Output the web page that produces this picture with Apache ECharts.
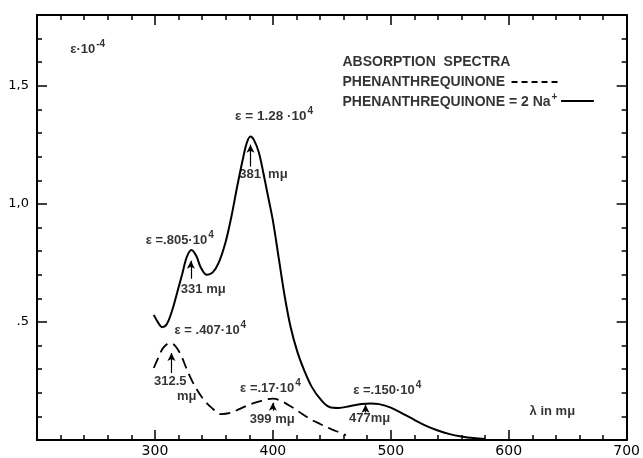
<!DOCTYPE html>
<html>
<head>
<meta charset="utf-8">
<script src="https://cdn.jsdelivr.net/npm/echarts@6/dist/echarts.min.js"></script>
<style>
  html, body { margin: 0; padding: 0; background: #fff; }
  #chart { width: 643px; height: 458px; }
</style>
</head>
<body>
<div id="chart"></div>
<script>
// phenanthrequinone + 2Na+ (solid)
const solidWl = [299, 303, 306, 310, 315, 319, 323, 327, 331, 335, 339, 344, 349, 354, 360, 365, 370, 375, 378, 381, 384, 388, 392, 396, 400, 405, 410, 415, 421, 427, 433, 440, 448, 456, 465, 475, 483, 490, 500, 510, 520, 530, 540, 550, 560, 570, 580];
const solidEps = [0.53, 0.495, 0.478, 0.49, 0.555, 0.627, 0.70, 0.775, 0.805, 0.78, 0.73, 0.70, 0.71, 0.75, 0.84, 0.95, 1.08, 1.20, 1.26, 1.285, 1.27, 1.22, 1.13, 1.03, 0.93, 0.77, 0.61, 0.48, 0.37, 0.29, 0.225, 0.175, 0.14, 0.136, 0.143, 0.152, 0.155, 0.152, 0.137, 0.112, 0.085, 0.06, 0.04, 0.025, 0.015, 0.008, 0.004];

// phenanthrequinone (dashed)
const dashWl = [299, 303, 307, 312.5, 317, 322, 327, 332, 340, 348, 356, 364, 372, 380, 388, 395, 400, 406, 416, 425, 433, 440, 450, 456, 462];
const dashEps = [0.305, 0.35, 0.39, 0.41, 0.40, 0.36, 0.30, 0.245, 0.18, 0.137, 0.11, 0.115, 0.132, 0.15, 0.163, 0.172, 0.175, 0.168, 0.14, 0.11, 0.085, 0.068, 0.045, 0.033, 0.02];

// axis tick labels
const xLabels = {300: '300', 400: '400', 500: '500', 600: '600', 700: '700'};
const yLabels = {5: '.5', 10: '1,0', 15: '1,5'};

// annotation texts: [wavelength, eps, text, superscript, align, size]
const notes = [
  [243, 1.655, 'ε·10', '-4', 'center', 13],
  [401, 1.373, 'ε = 1.28 ·10', '4', 'center', 13.5],
  [392, 1.125, '381  mμ', '', 'center', 13],
  [321, 0.847, 'ε =.805·10', '4', 'center', 13],
  [341, 0.637, '331 mμ', '', 'center', 13],
  [347, 0.465, 'ε = .407·10', '4', 'center', 13],
  [313, 0.25, '312.5', '', 'center', 13],
  [327, 0.185, 'mμ', '', 'center', 13],
  [398, 0.22, 'ε =.17·10', '4', 'center', 13],
  [399.5, 0.086, '399 mμ', '', 'center', 13],
  [497, 0.212, 'ε =.150·10', '4', 'center', 13],
  [482, 0.09, '477mμ', '', 'center', 13],
  [637, 0.12, 'λ in mμ', '', 'center', 13],
  [459, 1.60, 'ABSORPTION  SPECTRA', '', 'left', 14],
  [459, 1.516, 'PHENANTHREQUINONE', '', 'left', 14],
  [459, 1.432, 'PHENANTHREQUINONE = 2 Na', '+', 'left', 14]
];

// peak arrows: [wavelength, from eps, to eps]
const arrows = [
  [381, 1.158, 1.251],
  [330.5, 0.683, 0.759],
  [314, 0.284, 0.368],
  [400, 0.124, 0.158],
  [478.6, 0.116, 0.149]
];

// legend samples: [x0, x1, eps, dashed]
const legendLines = [
  [602.4, 641.9, 1.516, true],
  [644.4, 672.2, 1.436, false]
];

const ink = '#000';
const font = 'Liberation Sans';

function pairs(xs, ys) {
  return xs.map((x, i) => [x, ys[i]]);
}

const chart = echarts.init(document.getElementById('chart'));

const baseX = {
  type: 'value', min: 200, max: 700, interval: 100,
  axisLine: {show: true, onZero: false, lineStyle: {color: ink, width: 2}},
  axisTick: {show: true, inside: true, length: 10, lineStyle: {color: ink, width: 1.5}},
  minorTick: {show: true, splitNumber: 5, length: 5, lineStyle: {color: ink, width: 1.5}},
  splitLine: {show: false}
};

function yAxis(pos, interval, len, line, labels) {
  return {
    type: 'value', min: 0, max: 1.8, interval: interval, position: pos,
    axisLine: {show: line, onZero: false, lineStyle: {color: ink, width: 2}},
    axisTick: {show: true, inside: true, length: len, lineStyle: {color: ink, width: 1.5}},
    axisLabel: labels ? {
      show: true, margin: 8, color: ink, fontFamily: 'DejaVu Sans', fontSize: 13,
      formatter: v => yLabels[Math.round(v * 10)] || ''
    } : {show: false},
    splitLine: {show: false}
  };
}

chart.setOption({
  animation: false,
  backgroundColor: '#fff',
  grid: {left: 37, right: 12, top: 15, bottom: 16},
  xAxis: [
    Object.assign({}, baseX, {
      position: 'bottom',
      axisLabel: {
        show: true, margin: 4, color: ink, fontFamily: 'DejaVu Sans', fontSize: 14,
        formatter: v => xLabels[v] || ''
      }
    }),
    Object.assign({}, baseX, {position: 'top', axisLabel: {show: false}})
  ],
  yAxis: [
    yAxis('left', 0.1, 5, true, true),
    yAxis('left', 0.5, 10, false, false),
    yAxis('right', 0.1, 5, true, false),
    yAxis('right', 0.5, 10, false, false)
  ],
  series: [
    {
      name: 'PHENANTHREQUINONE = 2Na+',
      type: 'line',
      data: pairs(solidWl, solidEps),
      smooth: 0.35,
      showSymbol: false,
      lineStyle: {color: ink, width: 2}
    },
    {
      name: 'PHENANTHREQUINONE',
      type: 'line',
      data: pairs(dashWl, dashEps),
      smooth: 0.35,
      showSymbol: false,
      lineStyle: {color: ink, width: 1.8, type: [11, 6]}
    },
    {
      name: 'notes',
      type: 'scatter',
      symbolSize: 0,
      silent: true,
      data: notes.map(n => ({
        value: [n[0], n[1]],
        label: {
          show: true, position: 'inside', align: n[4], verticalAlign: 'middle',
          formatter: n[3] ? '{t|' + n[2] + '}{s|' + n[3] + '}' : '{t|' + n[2] + '}',
          rich: {
            t: {color: ink, fontFamily: font, fontWeight: 'bold', fontSize: n[5], lineHeight: n[5] + 2},
            s: {color: ink, fontFamily: font, fontWeight: 'bold', fontSize: 10, padding: [0, 0, 9, 1], lineHeight: 12}
          }
        }
      })),
      markLine: {
        silent: true,
        symbol: ['none', 'arrow'],
        symbolSize: [6, 8],
        label: {show: false},
        lineStyle: {color: ink, width: 1.2, type: 'solid'},
        data: arrows.map(a => [
          {coord: [a[0], a[1]]},
          {coord: [a[0], a[2]]}
        ]).concat(legendLines.map(l => [
          {coord: [l[0], l[2]], symbol: 'none', lineStyle: {color: ink, width: 1.8, type: l[3] ? [6, 4] : 'solid'}},
          {coord: [l[1], l[2]], symbol: 'none'}
        ]))
      }
    }
  ]
});
</script>
</body>
</html>
